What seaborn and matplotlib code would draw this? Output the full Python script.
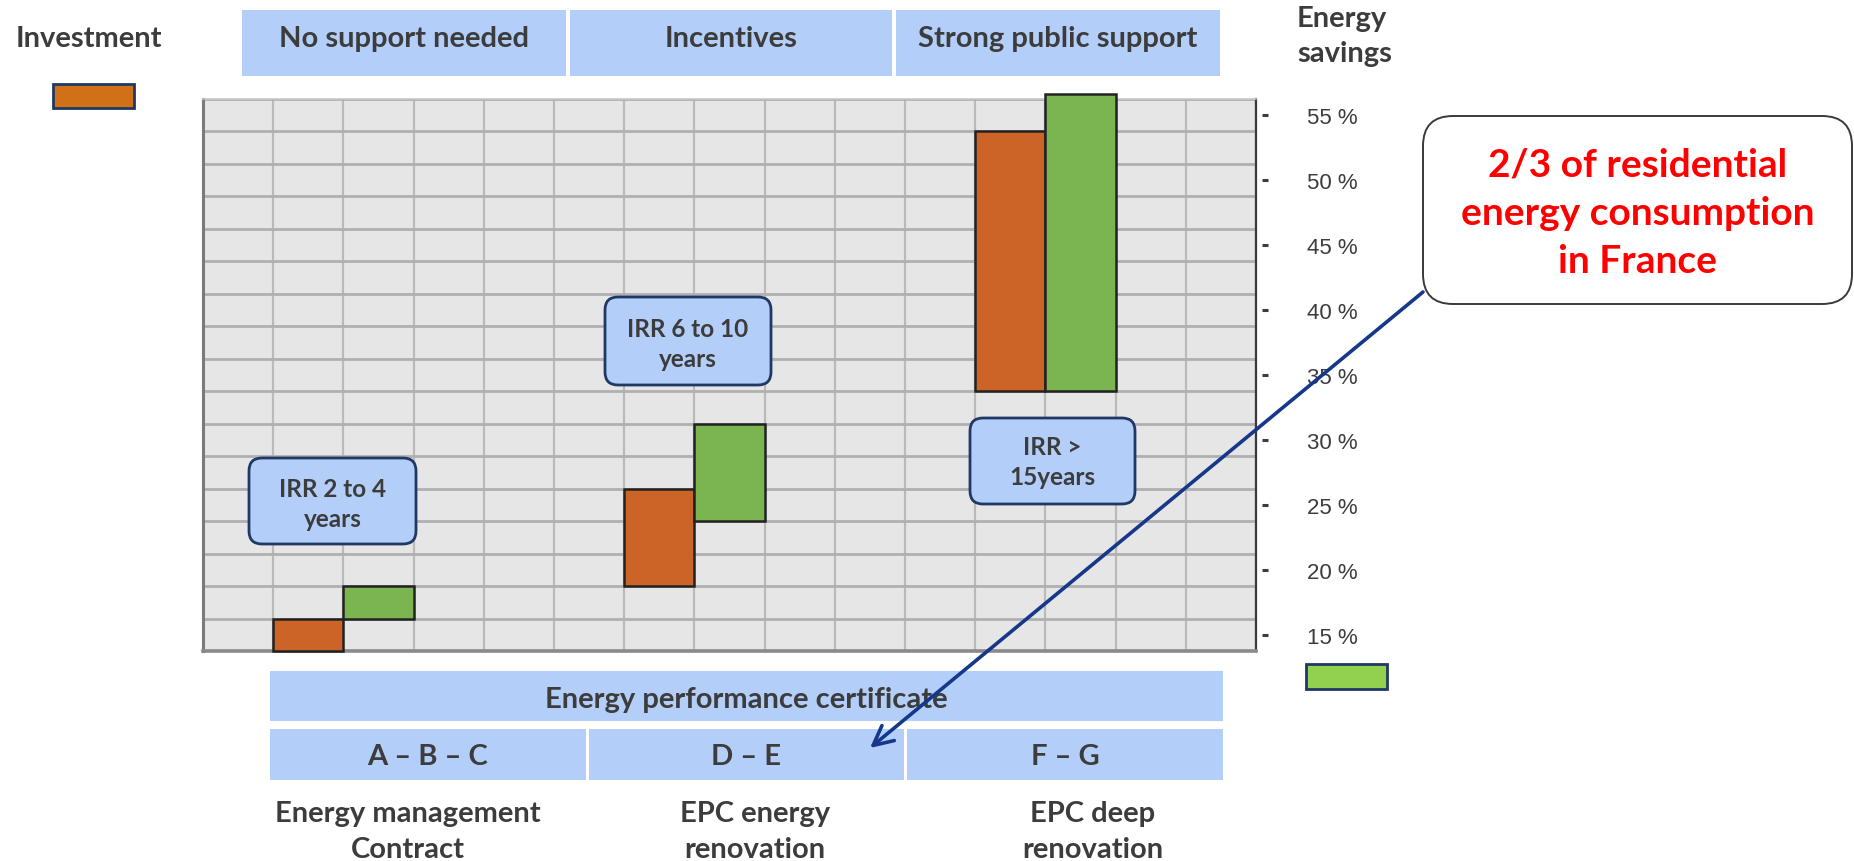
import numpy as np
import pandas as pd
import matplotlib
matplotlib.use("Agg")
import matplotlib.pyplot as plt
from matplotlib.patches import Rectangle, FancyBboxPatch
import seaborn as sns

# ---------------- data ----------------
support_levels = ["No support needed", "Incentives", "Strong public support"]
epc_title = "Energy performance certificate"
epc_classes = ["A – B – C", "D – E", "F – G"]
projects = ["Energy management\nContract", "EPC energy\nrenovation", "EPC deep\nrenovation"]
irr_labels = ["IRR 2 to 4\nyears", "IRR 6 to 10\nyears", "IRR >\n15years"]
investment_low = [13.75, 18.75, 33.75]
investment_high = [16.25, 26.25, 53.75]
savings_low = [16.25, 23.75, 33.75]
savings_high = [18.75, 31.25, 56.6]
y_ticks = [15, 20, 25, 30, 35, 40, 45, 50, 55]
tick_labels = [f"{v} %" for v in y_ticks]
callout_text = "2/3 of residential\nenergy consumption\nin France"

# ---------------- style ----------------
sns.set_theme(style="white")
plt.rcParams["font.family"] = ["Lato", "DejaVu Sans"]
TXT = "#3c3c3c"
BLUE = "#b4cefa"
NAVY = "#1f3864"
ORANGE = "#cc6428"
GREEN = "#7ab54f"
FS = 21

W, H = 1854, 862
fig = plt.figure(figsize=(W / 100, H / 100), dpi=100)
fig.patch.set_facecolor("white")

# main grid axes (pixel box: x 203-1256, y 100-652)
L, R, T, B = 203, 1256, 100, 652
ax = fig.add_axes([L / W, (H - B) / H, (R - L) / W, (B - T) / H])
ax.set_facecolor("#e6e6e6")

n_cols = 15
group_cols = [1, 6, 11]
inv_x = [c + 0.5 for c in group_cols]
sav_x = [c + 1.5 for c in group_cols]

inv_df = pd.DataFrame({"x": inv_x, "h": np.subtract(investment_high, investment_low)})
sav_df = pd.DataFrame({"x": sav_x, "h": np.subtract(savings_high, savings_low)})

sns.barplot(data=inv_df, x="x", y="h", native_scale=True, width=0.2, errorbar=None,
            bottom=np.array(investment_low), color=ORANGE, edgecolor="#222222",
            linewidth=1.8, saturation=1, ax=ax, zorder=3)
sns.barplot(data=sav_df, x="x", y="h", native_scale=True, width=0.2, errorbar=None,
            bottom=np.array(savings_low), color=GREEN, edgecolor="#222222",
            linewidth=1.8, saturation=1, ax=ax, zorder=3)
for p in ax.patches:
    p.set_clip_on(False)

ax.set_xlim(0, n_cols)
ax.set_ylim(13.75, 56.25)
ax.set_xlabel("")
ax.set_ylabel("")
ax.set_xticks(range(n_cols + 1), minor=True)
ax.set_xticks([])
ax.set_yticks(np.arange(13.75, 56.3, 2.5), minor=True)
ax.grid(False)
ax.grid(which="minor", axis="x", color="#bababa", lw=1.6, zorder=1)
ax.grid(which="minor", axis="y", color="#b0b0b0", lw=2.0, zorder=1)
ax.set_axisbelow(True)
ax.yaxis.tick_right()
ax.set_yticks(y_ticks)
ax.set_yticklabels(tick_labels, fontfamily="Liberation Sans", fontsize=16, color=TXT)
ax.tick_params(axis="y", which="major", length=0, pad=37)
ax.tick_params(which="minor", length=0)
ax.plot([1.0085] * len(y_ticks), y_ticks, ls="none", marker="_", ms=4, mew=2.2,
        color=TXT, transform=ax.get_yaxis_transform(), clip_on=False)
for s, (c, w) in {"left": ("#7a7a7a", 2.2), "bottom": ("#8a8a8a", 2.6),
                  "right": ("#3a3a3a", 1.6), "top": ("#c8c8c8", 1.2)}.items():
    ax.spines[s].set_visible(True)
    ax.spines[s].set_color(c)
    ax.spines[s].set_linewidth(w)

# ---------------- overlay (pixel coordinates) ----------------
ov = fig.add_axes([0, 0, 1, 1], zorder=5)
ov.set_xlim(0, W)
ov.set_ylim(H, 0)
ov.axis("off")
ov.patch.set_alpha(0)

def text(x, y, s, size=FS, color=TXT, ha="center", va="baseline", weight="bold", **kw):
    ov.text(x, y, s, fontsize=size, color=color, ha=ha, va=va, fontweight=weight, **kw)

# legend
text(89, 47, "Investment")
ov.add_patch(Rectangle((53, 85), 81, 24, facecolor="#d07117", edgecolor=NAVY, lw=2))
text(1297, 27, "Energy", ha="left")
text(1297, 62, "savings", ha="left")
ov.add_patch(Rectangle((1306, 665), 81, 25, facecolor="#92d050", edgecolor=NAVY, lw=2))

# top header boxes
hdr = [(242, 566), (570, 892), (896, 1220)]
for (x0, x1), s in zip(hdr, support_levels):
    ov.add_patch(Rectangle((x0, 11), x1 - x0, 66, facecolor=BLUE, edgecolor="none"))
    text((x0 + x1) / 2, 47, s)

# EPC boxes
ov.add_patch(Rectangle((270, 672), 953, 50, facecolor=BLUE, edgecolor="none"))
text(746, 708, epc_title)
epc = [(270, 586), (589, 904), (907, 1223)]
for (x0, x1), s in zip(epc, epc_classes):
    ov.add_patch(Rectangle((x0, 730), x1 - x0, 51, facecolor=BLUE, edgecolor="none"))
    text((x0 + x1) / 2, 765, s)

# project labels
for cx, s in zip([408, 755, 1093], projects):
    l1, l2 = s.split("\n")
    text(cx, 822, l1)
    text(cx, 858, l2)

# IRR boxes
irr_boxes = [(249, 459, 416, 545, 497), (605, 298, 771, 386, 337), (970, 419, 1135, 505, 455)]
for (x0, y0, x1, y1, bl), s in zip(irr_boxes, irr_labels):
    ov.add_patch(FancyBboxPatch((x0, y0), x1 - x0, y1 - y0,
                                boxstyle="round,pad=0,rounding_size=13",
                                facecolor=BLUE, edgecolor=NAVY, lw=2, zorder=6))
    l1, l2 = s.split("\n")
    text((x0 + x1) / 2, bl, l1, size=17.5, zorder=7)
    text((x0 + x1) / 2, bl + 30, l2, size=17.5, zorder=7)

# callout
ov.add_patch(FancyBboxPatch((1423, 117), 429, 188, boxstyle="round,pad=0,rounding_size=30",
                            facecolor="white", edgecolor="#3a3a3a", lw=1.4, zorder=6))
for i, line in enumerate(callout_text.split("\n")):
    text(1638, 177 + 48 * i, line, size=28, color="#ff0000", zorder=7)

ov.annotate("", xy=(870, 749), xytext=(1423, 293),
            arrowprops=dict(arrowstyle="->,head_length=0.7,head_width=0.35",
                            color="#16388a", lw=2.6, mutation_scale=20,
                            shrinkA=0, shrinkB=0), zorder=8)

fig.savefig("out.png", dpi=100, facecolor="white")
